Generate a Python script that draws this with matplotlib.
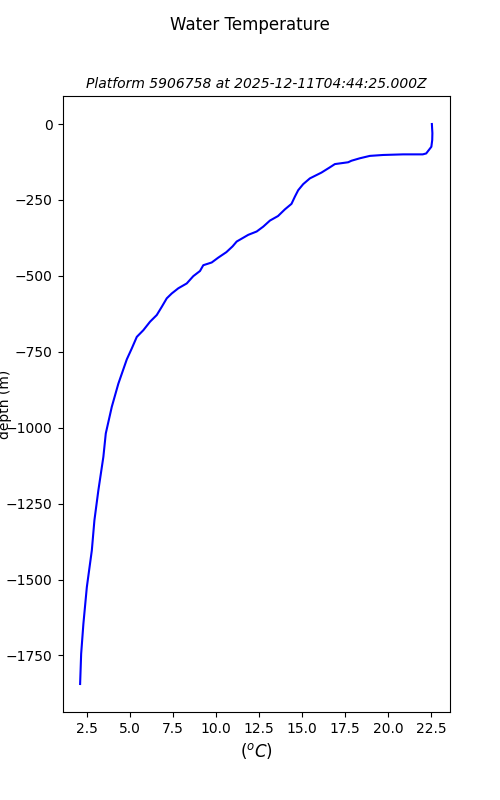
import matplotlib
matplotlib.use('Agg')
from matplotlib import pyplot as plt

# temperature (deg C), top to bottom
temperature = [22.53, 22.56, 22.55, 22.5, 22.2, 22.0, 20.86, 19.7, 18.93, 18.34, 17.86,
               17.67, 16.9, 16.6, 16.12, 15.45, 15.06, 14.77, 14.58, 14.38, 14.0, 13.6,
               13.13, 12.74, 12.36, 11.87, 11.2, 10.96, 10.6, 10.13, 9.75, 9.26, 9.07,
               8.68, 8.3, 7.81, 7.43, 7.14, 6.85, 6.56, 6.17, 5.78, 5.4, 5.11, 4.82,
               4.33, 3.95, 3.6, 3.46, 3.17, 2.94, 2.79, 2.5, 2.3, 2.17, 2.11]
depth = [0, -30, -53, -75, -97, -100, -100, -102, -105, -113, -121,
         -126, -132, -143, -160, -179, -198, -218, -239, -263, -281, -303,
         -318, -338, -354, -365, -387, -403, -422, -440, -456, -465, -484,
         -501, -525, -541, -558, -574, -602, -629, -651, -679, -701, -739, -775,
         -855, -931, -1019, -1096, -1206, -1305, -1404, -1525, -1646, -1745, -1844]

platform = '5906758'
timestamp = '2025-12-11T04:44:25.000Z'


def draw_profile(temp: list, dep: list) -> None:
    fig, ax = plt.subplots(figsize=(5, 8), dpi=100)
    ax.plot(temp, dep, color='blue')
    fig.suptitle('Water Temperature')
    ax.set_title(f'Platform {platform} at {timestamp}', fontsize=10, style='italic')
    ax.set_xlabel(r'$(^oC)$', fontsize=12)
    ax.set_ylabel('depth (m)')
    ax.yaxis.set_label_coords(-0.13, 0.5)
    fig.savefig('out.png')


if __name__ == '__main__':
    draw_profile(temperature, depth)
